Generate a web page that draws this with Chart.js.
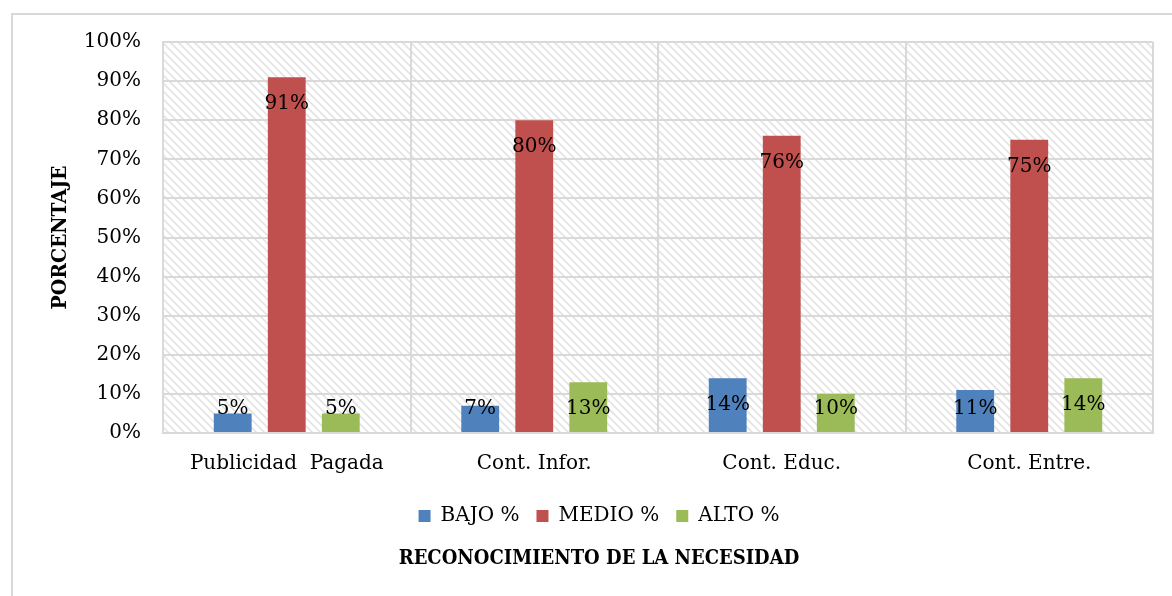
<!DOCTYPE html>
<html>
<head>
<meta charset="utf-8">
<script src="https://cdn.jsdelivr.net/npm/chart.js@4.4.1/dist/chart.umd.min.js"></script>
<style>
html,body{margin:0;padding:0;background:#fff;}
#wrap{position:absolute;left:0;top:0;width:1172px;height:596px;}
</style>
</head>
<body>
<div id="wrap"><canvas id="c" width="1172" height="596"></canvas></div>
<script>
const categories = ["Publicidad  Pagada", "Cont. Infor.", "Cont. Educ.", "Cont. Entre."];
const bajo = [5, 7, 14, 11];
const medio = [91, 80, 76, 75];
const alto = [5, 13, 10, 14];
const yTicks = [0,10,20,30,40,50,60,70,80,90,100];
const seriesNames = ["BAJO %", "MEDIO %", "ALTO %"];

const SERIF = "'DejaVu Serif', 'Liberation Serif', serif";
const SERIF_BOLD = "'DejaVu Serif Condensed', 'DejaVu Serif', serif";

// hatch pattern
const pc = document.createElement('canvas');
pc.width = 8; pc.height = 8;
const px = pc.getContext('2d');
px.fillStyle = '#ffffff'; px.fillRect(0,0,8,8);
px.strokeStyle = '#e3e3e3'; px.lineWidth = 1.6;
px.beginPath();
px.moveTo(-2,-2); px.lineTo(10,10);
px.moveTo(-10,-2); px.lineTo(2,10);
px.moveTo(6,-2); px.lineTo(18,10);
px.stroke();

const bgPlugin = {
  id: 'bg',
  beforeDraw(chart) {
    const ctx = chart.ctx, a = chart.chartArea;
    ctx.save();
    ctx.fillStyle = '#fff';
    ctx.fillRect(0,0,chart.width,chart.height);
    ctx.strokeStyle = '#d9d9d9'; ctx.lineWidth = 2;
    ctx.strokeRect(12, 14, chart.width + 20, chart.height + 20);
    const pat = ctx.createPattern(pc, 'repeat');
    ctx.fillStyle = pat;
    ctx.fillRect(a.left, a.top, a.right - a.left, a.bottom - a.top);
    ctx.restore();
  },
  afterDatasetsDraw(chart) {
    const ctx = chart.ctx;
    const ys = chart.scales.y;
    ctx.save();
    ctx.font = "20px " + SERIF;
    ctx.fillStyle = '#000';
    ctx.textAlign = 'center';
    ctx.textBaseline = 'middle';
    chart.data.datasets.forEach((ds, i) => {
      const meta = chart.getDatasetMeta(i);
      meta.data.forEach((bar, j) => {
        const v = ds.data[j];
        const top = ys.getPixelForValue(v);
        const y = Math.min(top + 27, ys.getPixelForValue(0) - 24);
        ctx.fillText(v + '%', bar.x, y);
      });
    });
    ctx.restore();
  }
};

new Chart(document.getElementById('c'), {
  type: 'bar',
  data: {
    labels: categories,
    datasets: [
      { label: seriesNames[0], data: bajo, backgroundColor: '#4f81bd' },
      { label: seriesNames[1], data: medio, backgroundColor: '#c0504d' },
      { label: seriesNames[2], data: alto, backgroundColor: '#9bbb59' }
    ]
  },
  options: {
    responsive: false,
    animation: false,
    devicePixelRatio: 1,
    layout: { padding: { left: 45, top: 42, right: 19, bottom: 25 } },
    datasets: { bar: { categoryPercentage: 0.655, barPercentage: 0.70 } },
    scales: {
      x: {
        grid: { color: '#d9d9d9', lineWidth: 2, drawTicks: false, offset: true },
        border: { color: '#d9d9d9', width: 2 },
        ticks: { color: '#000', font: { family: SERIF, size: 20 }, padding: 19, maxRotation: 0, autoSkip: false },
        afterFit(s) { s.height = 56; }
      },
      y: {
        min: 0, max: 100,
        afterBuildTicks(s) { s.ticks = yTicks.map(v => ({ value: v })); },
        grid: { color: '#d9d9d9', lineWidth: 2, drawTicks: false },
        border: { color: '#d9d9d9', width: 2 },
        ticks: { color: '#000', font: { family: SERIF, size: 20 }, padding: 22, callback: v => v + '%' },
        title: { display: true, text: 'PORCENTAJE', color: '#000', font: { family: SERIF_BOLD, size: 21, weight: 'bold' }, padding: { top: 3, bottom: 0 } },
        afterFit(s) { s.width = 118; }
      }
    },
    plugins: {
      legend: {
        position: 'bottom',
        labels: { color: '#000', font: { family: SERIF, size: 20 }, boxWidth: 12, boxHeight: 12, padding: 17 }
      },
      title: {
        display: true, position: 'bottom', text: 'RECONOCIMIENTO DE LA NECESIDAD', color: '#000',
        font: { family: SERIF_BOLD, size: 20, weight: 'bold' }, padding: { top: 11, bottom: 0 }
      },
      tooltip: { enabled: false }
    }
  },
  plugins: [bgPlugin]
});
</script>
</body>
</html>
